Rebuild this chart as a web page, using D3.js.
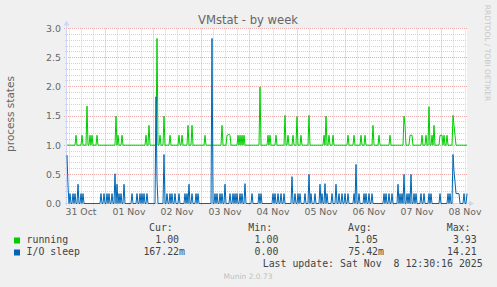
<!DOCTYPE html>
<html>
<head>
<meta charset="utf-8">
<script src="https://cdn.jsdelivr.net/npm/d3@7"></script>
<style>
  body { margin: 0; background: #f0f0f0; }
  svg { display: block; }
</style>
</head>
<body>
<div id="chart"></div>
<script>
// 30 minute samples, first one at 31 Oct 05:00
var running = [
  1,1,1,1,1,1,1,1,1,1.17, 1,1,1,1,1,1.17,1,1,1,1,
  1.67,1,1,1.17,1,1.17,1,1,1,1, 1.17,1,1,1,1,1,1,1,1,1,
  1,1,1,1,1,1,1,1,1,1.5, 1,1.17,1,1,1,1.17,1,1,1,1,
  1,1,1,1,1,1,1,1,1,1, 1,1,1,1,1,1,1,1,1,1.17,
  1,1,1.34,1,1,1,1,1,1,1, 2.83,1,1,1.17,1,1,1,1.5,1,1,
  1,1,1,1.17,1,1,1,1,1,1, 1,1,1.17,1,1,1.17,1,1,1,1,
  1,1.34,1,1,1,1.34,1,1,1,1, 1,1,1,1,1,1,1,1,1.17,1,
  1,1,1,1,1,1,1,1,1,1, 1,1,1,1,1,1.34,1,1,1,1,
  1.17,1.17,1.19,1.17,1,1,1,1,1,1, 1,1.17,1,1.17,1,1.17,1,1.17,1,1,
  1,1,1,1,1,1,1,1,1,1, 1,1,1,2,1,1,1,1,1,1,
  1,1.17,1,1.17,1,1,1,1,1,1.17, 1,1,1,1,1,1,1,1,1.51,1,
  1,1.17,1,1,1,1,1.17,1,1,1, 1.49,1,1,1,1.17,1,1,1,1,1,
  1,1,1.51,1,1,1,1,1,1,1, 1,1,1,1,1,1,1,1.17,1,1.5,
  1,1,1.17,1,1,1,1.17,1,1,1, 1,1,1,1,1,1,1,1,1,1,
  1,1.17,1,1,1,1,1,1.17,1,1, 1,1,1,1,1.17,1,1,1,1.17,1,
  1,1,1,1,1,1,1.34,1,1,1, 1,1,1.17,1,1,1,1,1,1,1,
  1,1,1,1.17,1,1,1,1,1,1, 1,1,1,1,1,1,1,1.5,1.34,1,
  1,1,1,1.17,1.17,1.17,1,1,1,1, 1,1,1,1,1,1.17,1,1,1,1.17,
  1,1,1.66,1,1,1.17,1,1.34,1,1, 1,1,1,1.17,1.17,1.17,1,1.17,1,1,
  1.17,1,1,1,1,1,1.51,1.34,1.17,1, 1,1,1,1,1,1,1,1,1,1,
  1
];

var ioSleep = [
  0.83,0.3,0,0.17,0,0,0.17,0,0.17,0, 0,0.33,0,0,0.17,0,0.17,0,0,0,
  0,0,0,0,0,0,0,0,0,0, 0,0,0,0,0.17,0,0,0.17,0,0,
  0.17,0,0.17,0,0,0.17,0,0,0.51,0, 0.33,0,0.17,0,0.17,0,0,0.33,0,0,
  0,0,0,0,0,0.17,0,0,0,0, 0.17,0,0,0.17,0,0.17,0,0.17,0,0,
  0.17,0,0,0,0,0,0,0,0,1.83, 0.4,0,0,0,0,0,0,0.84,0,0,
  0.17,0,0,0.17,0,0.17,0,0,0.17,0, 0,0,0.17,0,0,0,0,0,0.17,0,
  0.17,0,0.33,0,0,0.17,0,0,0,0.17, 0,0.17,0,0,0,0,0,0,0,0,
  0,0,0,0,0,2.83,0,0,0.17,0, 0.17,0,0,0.17,0,0.17,0,0,0.33,0,
  0,0,0,0.17,0,0,0.17,0,0.17,0, 0.17,0,0,0.17,0,0.17,0,0,0.34,0,
  0,0,0,0,0,0.17,0,0,0,0, 0,0,0.17,0,0.17,0,0,0,0,0,
  0,0,0,0,0,0,0.17,0,0.17,0, 0,0.17,0,0,0.17,0,0,0.17,0,0,
  0,0,0,0,0,0.46,0,0,0.17,0, 0,0.17,0,0.17,0,0,0,0,0.17,0,
  0,0,0.5,0,0.17,0,0,0,0.17,0, 0,0,0,0.33,0,0.17,0,0,0.34,0,
  0.17,0,0,0,0,0.17,0,0,0,0.33, 0,0,0.17,0,0,0.17,0,0,0.17,0,
  0,0.17,0,0,0,0,0,0.17,0,0.67, 0,0,0.17,0,0,0,0,0.17,0,0.17,
  0,0,0.17,0,0,0.17,0,0,0,0, 0,0,0,0,0,0,0,0.17,0,0.17,
  0,0,0.17,0,0,0.17,0,0,0,0, 0,0.33,0,0.17,0,0.17,0,0.5,0,0,
  0.17,0,0.17,0,0.5,0,0,0.17,0,0.17, 0,0,0,0,0.17,0,0,0.17,0,0,
  0,0,0.17,0,0.17,0,0,0,0,0, 0,0,0,0.17,0,0,0,0,0,0,
  0,0.17,0,0.17,0,0,0.84,0.55,0.37,0.17, 0.17,0.17,0.17,0,0,0,0,0.17,0,0,
  0.17
];

var yTicks = [0, 0.5, 1, 1.5, 2, 2.5, 3];

var seriesNames = ["running", "I/O sleep"];
var seriesColors = ["#00cc00", "#0066b3"];
var legendHeads = ["Cur:", "Min:", "Avg:", "Max:"];
var legendCur = ["1.00\u00a0", "167.22m"];
var legendMin = ["1.00\u00a0", "0.00\u00a0"];
var legendAvg = ["1.05\u00a0", "75.42m"];
var legendMax = ["3.93\u00a0", "14.21\u00a0"];

var W = 497, H = 287;
var pLeft = 67, pRight = 467, pTop = 28.5, pBottom = 203.5;

var start = new Date(2025, 9, 31, 5, 0);
var end = new Date(start.getTime() + 400 * 1800 * 1000);
var times = running.map(function (d, i) {
  return new Date(start.getTime() + i * 1800 * 1000);
});

var svg = d3.select("#chart").append("svg")
  .attr("width", W).attr("height", H);

svg.append("rect").attr("width", W).attr("height", H).attr("fill", "#f0f0f0");
svg.append("rect")
  .attr("x", pLeft).attr("y", pTop - 0.5)
  .attr("width", pRight - pLeft).attr("height", pBottom - pTop + 0.5)
  .attr("fill", "#ffffff");

var x = d3.scaleTime().domain([start, end]).range([pLeft, pRight]);
var y = d3.scaleLinear().domain([0, 3]).range([pBottom, pTop]);

var minorCol = "#d2d2d2", majorCol = "#ecaaaa";
function crispY(d) { return Math.round(y(d) - 0.5) + 0.5; }
function crispX(d) { return Math.round(x(d)) + 0.5; }

// horizontal grid, minor every 0.1
var hMinor = d3.range(1, 31).map(function (d) { return d / 10; })
  .filter(function (d) { return Math.round(d * 10) % 5 != 0; });
var grid = svg.append("g");
grid.selectAll(".hmin").data(hMinor).enter().append("line")
  .attr("x1", pLeft - 2).attr("x2", pRight)
  .attr("y1", crispY).attr("y2", crispY)
  .attr("stroke", minorCol).attr("stroke-dasharray", "1,1");
grid.selectAll(".hmaj").data(yTicks.filter(function (d) { return d > 0; })).enter().append("line")
  .attr("x1", pLeft - 3).attr("x2", pRight)
  .attr("y1", crispY).attr("y2", crispY)
  .attr("stroke", majorCol).attr("stroke-dasharray", "1,1");

// vertical grid, 6 hours and days
var days = d3.timeDay.range(start, end);
var sixHours = d3.timeHour.every(6).range(start, end)
  .filter(function (d) { return d.getHours() != 0; });
grid.selectAll(".vmin").data(sixHours).enter().append("line")
  .attr("x1", crispX).attr("x2", crispX)
  .attr("y1", pTop).attr("y2", pBottom + 2)
  .attr("stroke", minorCol).attr("stroke-dasharray", "1,1");
grid.selectAll(".vmaj").data(days).enter().append("line")
  .attr("x1", crispX).attr("x2", crispX)
  .attr("y1", pTop).attr("y2", pBottom + 3)
  .attr("stroke", majorCol).attr("stroke-dasharray", "1,1");

// axes in munin blue with arrows
var axisCol = "#cfd6f8";
svg.append("line").attr("x1", pLeft - 0.5).attr("x2", pLeft - 0.5)
  .attr("y1", pBottom + 2).attr("y2", pTop - 4)
  .attr("stroke", axisCol);
svg.append("path")
  .attr("d", "M" + (pLeft - 3.5) + "," + (pTop - 3) + "L" + (pLeft - 0.5) + "," + (pTop - 8) + "L" + (pLeft + 2.5) + "," + (pTop - 3) + "Z")
  .attr("fill", axisCol);
svg.append("line").attr("x1", pLeft - 2).attr("x2", pRight + 3)
  .attr("y1", pBottom).attr("y2", pBottom)
  .attr("stroke", axisCol);
svg.append("path")
  .attr("d", "M" + (pRight + 2) + "," + (pBottom - 3) + "L" + (pRight + 7) + "," + pBottom + "L" + (pRight + 2) + "," + (pBottom + 3) + "Z")
  .attr("fill", axisCol);

// series, running first then io sleep on top
var line = d3.line()
  .x(function (d, i) { return x(times[i]); })
  .y(function (d) { return y(d); });
[running, ioSleep].forEach(function (s, k) {
  svg.append("path").datum(s)
    .attr("d", line)
    .attr("fill", "none")
    .attr("stroke", seriesColors[k])
    .attr("stroke-width", 1)
    .attr("stroke-linejoin", "round");
});

var fontCol = "#666666";
var sans = "DejaVu Sans, sans-serif";
var mono = "DejaVu Sans Mono, monospace";

// tick labels
svg.selectAll(".ylab").data(yTicks).enter().append("text")
  .attr("x", 61).attr("y", function (d) { return y(d); })
  .attr("dy", "0.36em")
  .attr("text-anchor", "end")
  .attr("font-family", sans).attr("font-size", "9.4px").attr("fill", fontCol)
  .text(function (d) { return d3.format(".1f")(d); });

// day labels sit at noon of their day
var labelDays = d3.timeDay.range(d3.timeDay.floor(start), end)
  .filter(function (d) { return x(d3.timeHour.offset(d, 12)) > pLeft; });
svg.selectAll(".xlab").data(labelDays).enter().append("text")
  .attr("x", function (d) { return x(d3.timeHour.offset(d, 12)); })
  .attr("y", 215)
  .attr("text-anchor", "middle")
  .attr("font-family", sans).attr("font-size", "9.3px").attr("fill", fontCol)
  .text(function (d) { return d3.timeFormat("%d %b")(d); });

// title and side texts
svg.append("text").attr("x", 248).attr("y", 24)
  .attr("text-anchor", "middle")
  .attr("font-family", sans).attr("font-size", "11.6px").attr("fill", fontCol)
  .text("VMstat - by week");

svg.append("text")
  .attr("transform", "translate(13.5,114) rotate(-90)")
  .attr("text-anchor", "middle")
  .attr("font-family", sans).attr("font-size", "10.5px").attr("fill", fontCol)
  .text("process states");

svg.append("text")
  .attr("transform", "translate(485,53) rotate(90)")
  .attr("text-anchor", "middle")
  .attr("font-family", sans).attr("font-size", "7.5px").attr("fill", "#c8c8c8")
  .text("RRDTOOL / TOBI OETIKER");

// legend
var legend = svg.append("g")
  .attr("font-family", mono).attr("font-size", "9.9px").attr("fill", "#444");
var colRight = [185, 284.3, 384, 482.7];
legendHeads.forEach(function (h, i) {
  legend.append("text").attr("x", colRight[i] - 36).attr("y", 231).text(h);
});
var cols = [legendCur, legendMin, legendAvg, legendMax];
seriesNames.forEach(function (n, k) {
  var yy = 242.5 + k * 12;
  legend.append("rect").attr("x", 14).attr("y", yy - 5).attr("width", 6).attr("height", 6)
    .attr("fill", seriesColors[k]);
  legend.append("text").attr("x", 26.5).attr("y", yy).text(n);
  cols.forEach(function (c, i) {
    legend.append("text").attr("x", colRight[i]).attr("y", yy)
      .attr("text-anchor", "end").text(c[k]);
  });
});
legend.append("text").attr("x", 482.7).attr("y", 266.5)
  .attr("text-anchor", "end")
  .style("white-space", "pre")
  .text("Last update: Sat Nov  8 12:30:16 2025");

svg.append("text").attr("x", 248).attr("y", 278.5)
  .attr("text-anchor", "middle")
  .attr("font-family", sans).attr("font-size", "7.5px").attr("fill", "#c0c0c0")
  .text("Munin 2.0.73");
</script>
</body>
</html>
